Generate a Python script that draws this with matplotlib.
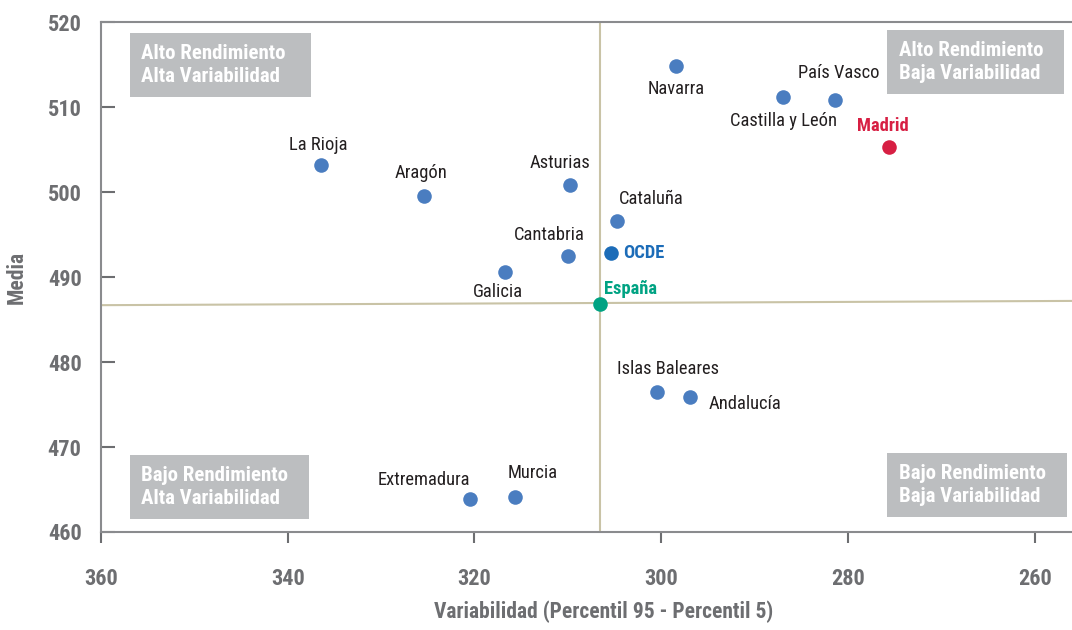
import matplotlib.pyplot as plt
import logging
logging.getLogger('matplotlib.font_manager').setLevel(logging.ERROR)

# data
regions = ["La Rioja", "Aragón", "Asturias", "Cataluña", "Cantabria", "Galicia",
           "Navarra", "Castilla y León", "País Vasco", "Islas Baleares",
           "Andalucía", "Extremadura", "Murcia"]
variab = [336.4, 325.4, 309.8, 304.7, 310.0, 316.7, 298.4, 287.0, 281.4,
          300.4, 296.9, 320.5, 315.7]
media = [503.2, 499.6, 500.9, 496.6, 492.5, 490.6, 514.9, 511.2, 510.9,
         476.5, 475.9, 463.9, 464.1]

madrid = (275.6, 505.3)
ocde = (305.4, 492.8)
espana = (306.5, 486.8)

vline_x = 306.5
hline_x = [360, 256]
hline_y = [486.7, 487.2]

# label offsets (pixels)
offsets = {
    "La Rioja": (-3, 20), "Aragón": (-3, 23), "Asturias": (-10, 22),
    "Cataluña": (34, 22), "Cantabria": (-19, 21), "Galicia": (-7, -20),
    "Navarra": (0, -23), "Castilla y León": (1, -24), "País Vasco": (4, 27),
    "Islas Baleares": (11, 23), "Andalucía": (55, -7),
    "Extremadura": (-46, 19), "Murcia": (18, 24),
}

plt.rcParams['font.family'] = ['Roboto Condensed', 'Barlow Condensed',
                               'Archivo Narrow', 'DejaVu Sans']

grey = "#6d6e71"
blue = "#4a7dc0"

fig = plt.figure(figsize=(10.72, 6.3), dpi=100)
ax = fig.add_axes([0.0942, 0.1556, 0.9058, 0.809])

ax.axvline(vline_x, color="#c9c3a6", lw=1.5, zorder=1)
ax.plot(hline_x, hline_y, color="#c9c3a6", lw=1.5, zorder=1)

ax.scatter(variab, media, s=110, color=blue, zorder=3, linewidths=0)
for n, x, y in zip(regions, variab, media):
    ax.annotate(n, (x, y), xytext=offsets[n], textcoords="offset pixels",
                ha="center", va="center", fontsize=13.3, color="#231f20")

ax.scatter(*madrid, s=110, color="#d71f43", zorder=3, linewidths=0)
ax.annotate("Madrid", madrid, xytext=(-6, 21), textcoords="offset pixels",
            ha="center", va="center", fontsize=13.3, color="#d71f43", weight="bold")
ax.scatter(*ocde, s=110, color="#1c6cb8", zorder=3, linewidths=0)
ax.annotate("OCDE", ocde, xytext=(12, 0), textcoords="offset pixels",
            ha="left", va="center", fontsize=13.3, color="#1c6cb8", weight="bold")
ax.scatter(*espana, s=110, color="#00a383", zorder=3, linewidths=0)
ax.annotate("España", espana, xytext=(30, 15), textcoords="offset pixels",
            ha="center", va="center", fontsize=13.3, color="#00a383", weight="bold")

box = dict(boxstyle="square,pad=0.55", fc="#bcbec0", ec="none")
kw = dict(transform=ax.transAxes, fontsize=15, color="white", weight="bold",
          bbox=box, linespacing=1.25, va="center")
ax.text(0.0415, 0.916, "Alto Rendimiento   \nAlta Variabilidad", ha="left", **kw)
ax.text(0.8215, 0.922, "Alto Rendimiento  \nBaja Variabilidad", ha="left", **kw)
ax.text(0.0415, 0.088, "Bajo Rendimiento  \nAlta Variabilidad", ha="left", **kw)
ax.text(0.8215, 0.092, "Bajo Rendimiento  \nBaja Variabilidad", ha="left", **kw)

ax.set_xlim(360, 256)
ax.set_ylim(460, 520)
ax.set_xticks([360, 340, 320, 300, 280, 260])
ax.set_yticks([460, 470, 480, 490, 500, 510, 520])

for s in ["left", "bottom", "top"]:
    ax.spines[s].set_color("#8a8b8e")
    ax.spines[s].set_linewidth(1.5)
ax.spines["right"].set_visible(False)

ax.tick_params(axis="x", direction="out", length=8, width=1.5, color=grey,
               pad=18, labelsize=16, labelcolor=grey)
ax.tick_params(axis="y", direction="in", length=10, width=1.5, color=grey,
               pad=14, labelsize=16, labelcolor=grey)
for lab in ax.get_xticklabels() + ax.get_yticklabels():
    lab.set_fontweight("bold")

ax.set_xlabel("Variabilidad (Percentil 95 - Percentil 5)", fontsize=15.5,
              weight="bold", color=grey)
ax.xaxis.set_label_coords(0.518, -0.135)
ax.set_ylabel("Media", fontsize=15.5, weight="bold", color=grey)
ax.yaxis.set_label_coords(-0.0755, 0.5)

fig.savefig("out.png", dpi=100)
